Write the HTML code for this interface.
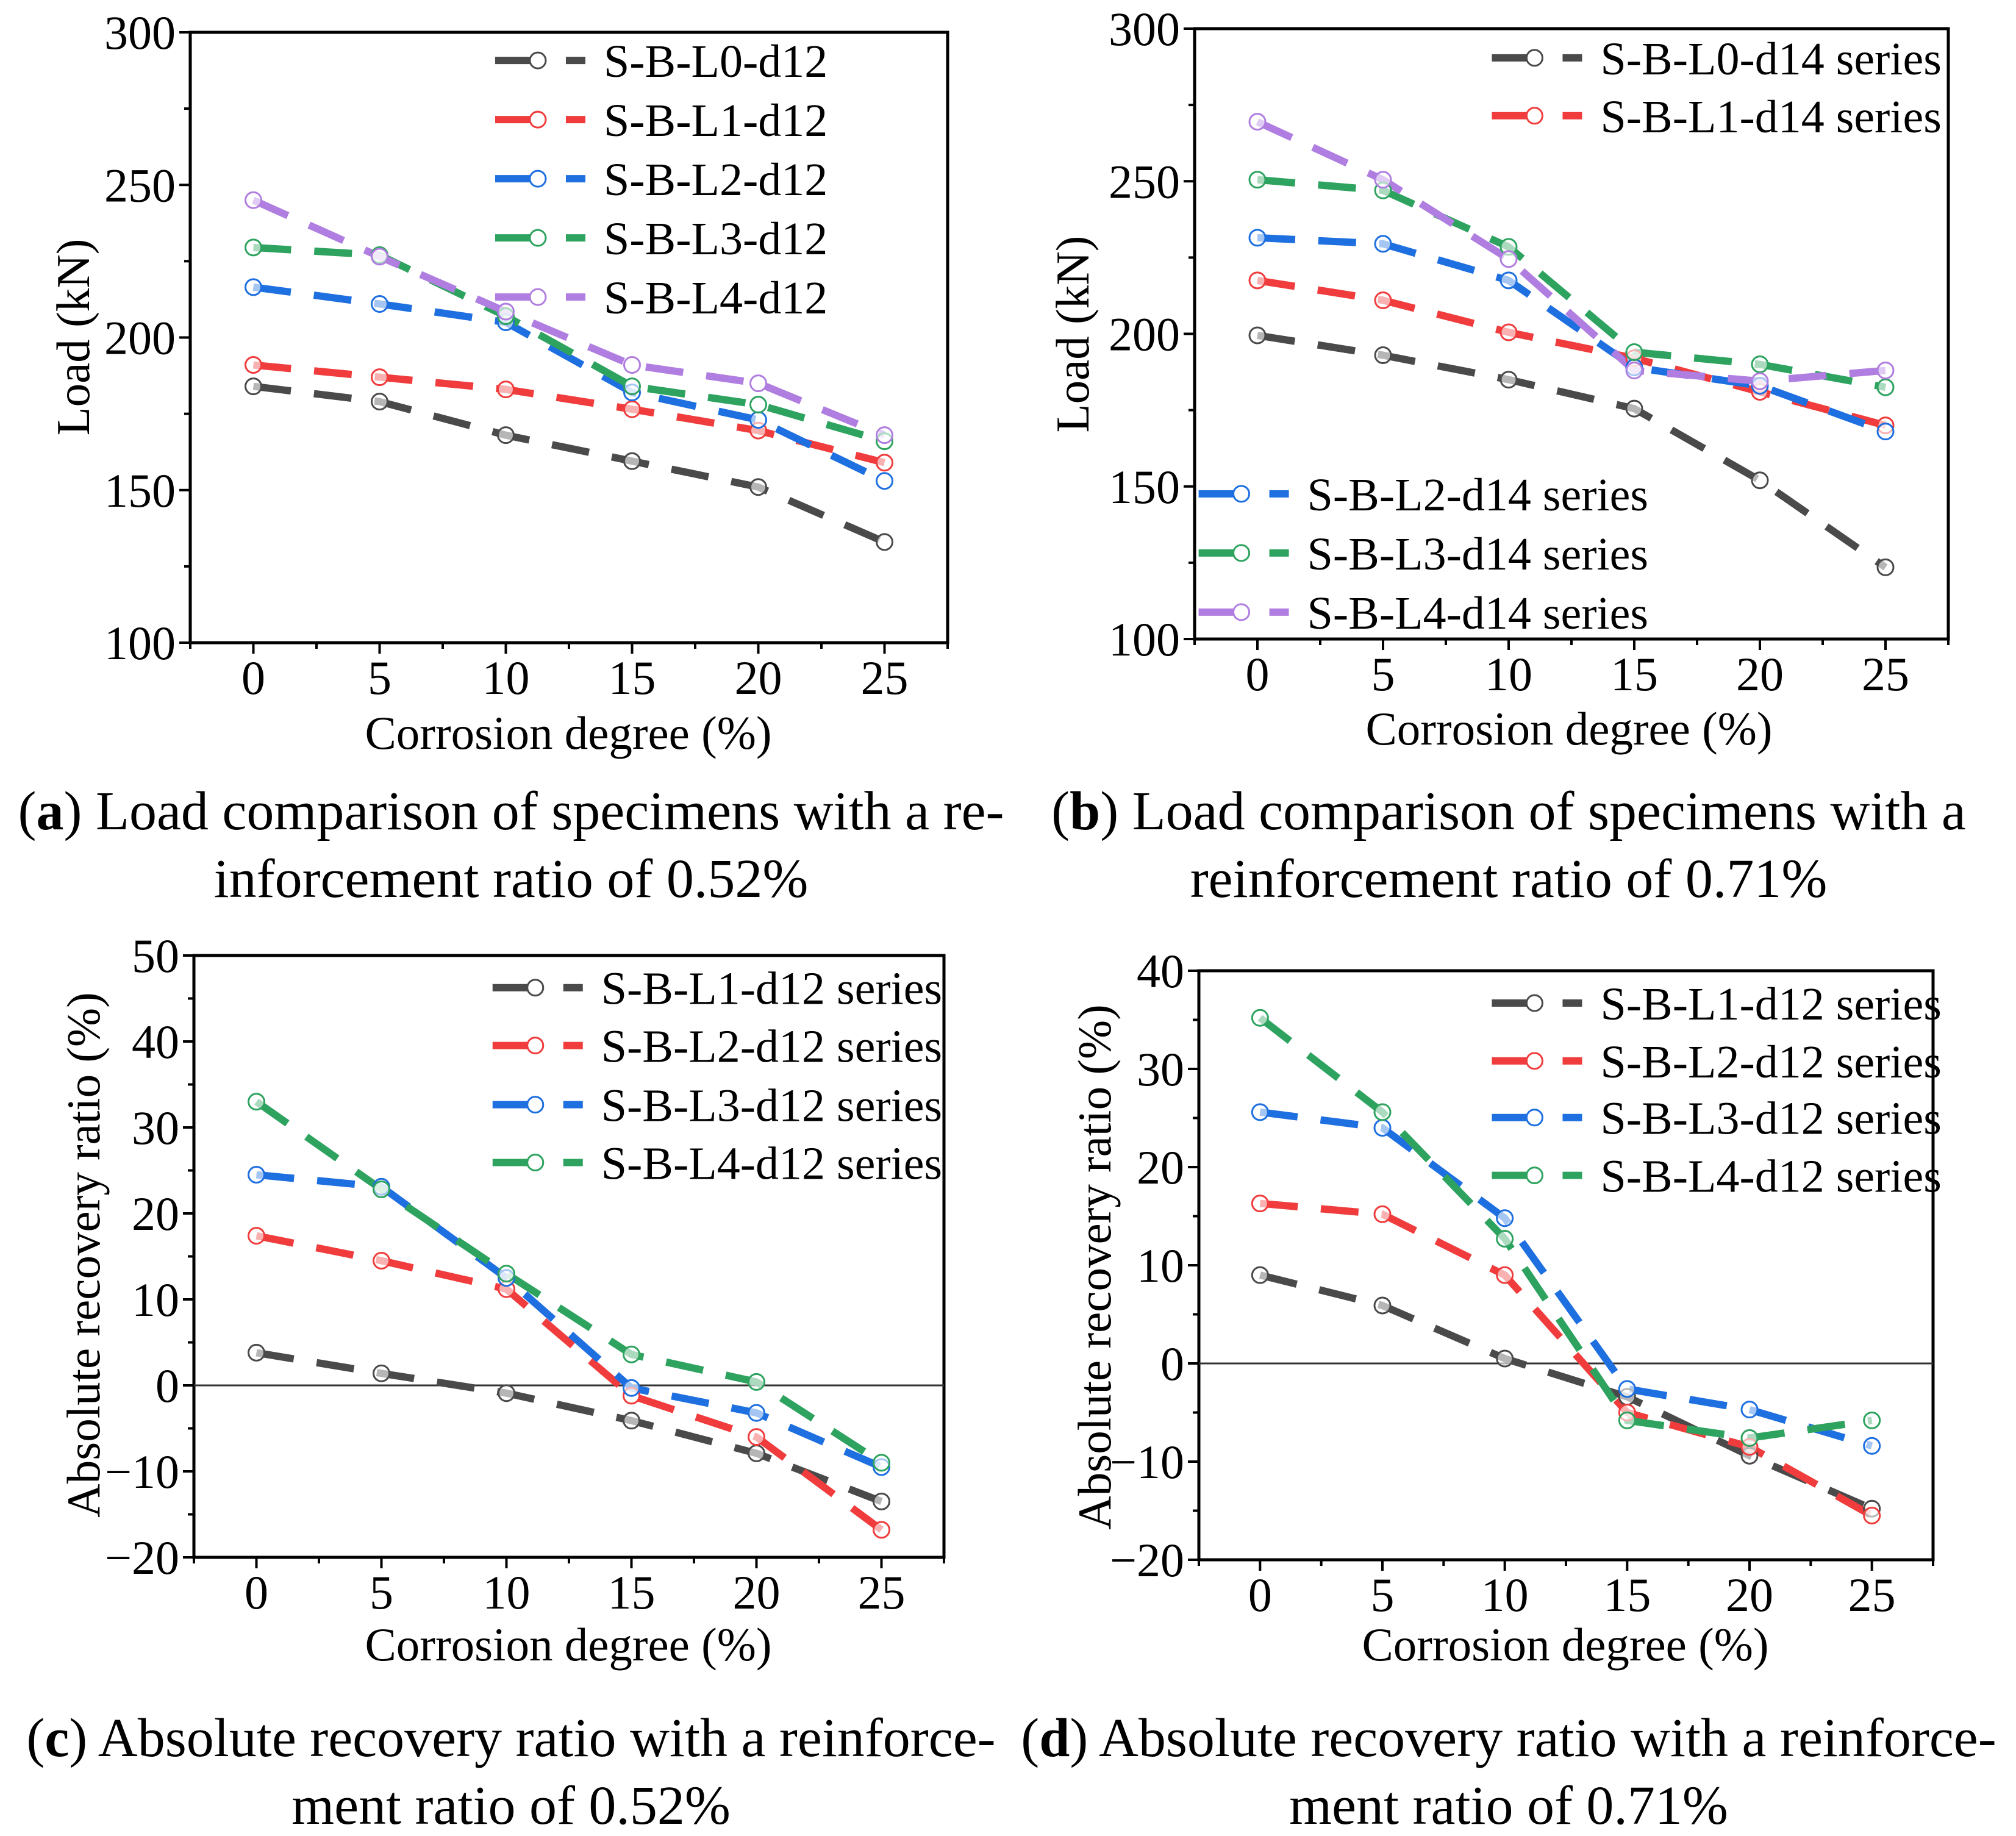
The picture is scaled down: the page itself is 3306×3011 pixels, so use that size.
<!DOCTYPE html>
<html><head><meta charset="utf-8"><style>
html,body{margin:0;padding:0;background:#fff;}
svg{display:block;font-family:"Liberation Serif",serif;}
</style></head><body>
<svg id="fig" width="3306" height="3011" viewBox="0 0 3306 3011" xmlns="http://www.w3.org/2000/svg"></svg>
<script>
const xCats = [0, 5, 10, 15, 20, 25];
const xTickLabels = ["0","5","10","15","20","25"];
const colors = ["#4a4a4a","#f03c3c","#1e6fe0","#2ea35f","#b07ee0"];
// Panel a
const aL0 = [184,179,168,159.5,151,133];
const aL1 = [191,187,183,176.5,169.5,159];
const aL2 = [216.5,211,205,182,173,153];
const aL3 = [229.5,227,207,184,178,166];
const aL4 = [245,226.5,208.5,191,185,168];
const aNames = ["S-B-L0-d12","S-B-L1-d12","S-B-L2-d12","S-B-L3-d12","S-B-L4-d12"];
const aYTicks = [100,150,200,250,300];
// Panel b
const bL0 = [199.5,193,185,175.5,152,123.5];
const bL1 = [217.5,211,200.5,192,181,170];
const bL2 = [231.5,229.5,217.5,189,183,168];
const bL3 = [250.5,247,228.5,194,190,182.5];
const bL4 = [269.5,250.5,224.5,188,184.5,188];
const bNames = ["S-B-L0-d14 series","S-B-L1-d14 series","S-B-L2-d14 series","S-B-L3-d14 series","S-B-L4-d14 series"];
const bYTicks = [100,150,200,250,300];
// Panel c
const cL1 = [3.8,1.4,-0.9,-4.1,-7.9,-13.5];
const cL2 = [17.4,14.5,11.2,-1.2,-6,-16.8];
const cL3 = [24.5,23.1,12.5,-0.3,-3.2,-9.5];
const cL4 = [33,22.8,13,3.6,0.4,-9];
const cNames = ["S-B-L1-d12 series","S-B-L2-d12 series","S-B-L3-d12 series","S-B-L4-d12 series"];
const cYTicks = [-20,-10,0,10,20,30,40,50];
// Panel d
const dL1 = [9,5.9,0.5,-3.4,-9.4,-14.8];
const dL2 = [16.3,15.2,9,-5,-8.5,-15.5];
const dL3 = [25.6,24,14.8,-2.6,-4.7,-8.4];
const dL4 = [35.2,25.6,12.7,-5.8,-7.6,-5.8];
const dNames = ["S-B-L1-d12 series","S-B-L2-d12 series","S-B-L3-d12 series","S-B-L4-d12 series"];
const dYTicks = [-20,-10,0,10,20,30,40];

const NS="http://www.w3.org/2000/svg";
const svg=document.getElementById('fig');
function mk(tag,attrs,parent){const e=document.createElementNS(NS,tag);for(const k in attrs)e.setAttribute(k,attrs[k]);(parent||svg).appendChild(e);return e;}
function txt(s,attrs,parent){const e=mk('text',attrs,parent);e.textContent=s;return e;}

function panel(id,box,ymin,ymax,yTicks,series,cols,names,legends,ytitle,ytitlePos,xtitlePos,zeroLine){
  const g=mk('g',{});
  
  
  const X=v=>box.l+(v+2.5)/30*(box.r-box.l);
  const Y=v=>box.b-(v-ymin)/(ymax-ymin)*(box.b-box.t);
  const fr=mk('rect',{x:box.l,y:box.t,width:box.r-box.l,height:box.b-box.t,fill:'none',stroke:'#000','stroke-width':5},g);
  
  
  if(zeroLine){const z=mk('line',{x1:box.l,x2:box.r,y1:Y(0),y2:Y(0),stroke:'#333','stroke-width':3},g);
    
    }
  for(let i=0;i<=12;i++){const v=-2.5+i*2.5;const x=X(v);const major=(i%2===1);
    mk('line',{x1:x,x2:x,y1:box.b,y2:box.b+(major?18:10),stroke:'#000','stroke-width':4},g);}
  xCats.forEach((c,i)=>{const t=txt(xTickLabels[i],{x:X(c),y:box.b+84,'font-size':78,'text-anchor':'middle'},g);
    
    });
  const step=yTicks[1]-yTicks[0];
  for(let v=ymin;v<=ymax+1e-9;v+=step/2){const y=Y(v);const major=Math.abs((v-ymin)/step-Math.round((v-ymin)/step))<1e-6;
    mk('line',{x1:box.l-(major?18:10),x2:box.l,y1:y,y2:y,stroke:'#000','stroke-width':4},g);}
  yTicks.forEach(v=>{const t=txt(v<0?'\u2212'+Math.abs(v):String(v),{x:box.l-24,y:Y(v)+27,'font-size':78,'text-anchor':'end'},g);
    
    });
  const yt=txt(ytitle,{x:ytitlePos[0],y:ytitlePos[1],'font-size':77,'text-anchor':'middle',transform:`rotate(-90 ${ytitlePos[0]} ${ytitlePos[1]})`},g);
  
  
  const xt=txt('Corrosion degree (%)',{x:xtitlePos[0],y:xtitlePos[1],'font-size':77,'text-anchor':'middle'},g);
  
  
  series.forEach((vals,si)=>{
    const pts=vals.map((v,i)=>X(xCats[i])+','+Y(v)).join(' ');
    const pl=mk('polyline',{points:pts,fill:'none',stroke:cols[si],'stroke-width':12,'stroke-dasharray':'62 38'},g);
    
    
  });
  series.forEach((vals,si)=>{
    vals.forEach((v,i)=>{const c=mk('circle',{cx:X(xCats[i]),cy:Y(v),r:13,fill:'#fff','fill-opacity':0.6,stroke:cols[si],'stroke-width':3},g);
      
      });
  });
  legends.forEach((L,si)=>{
    const lg=mk('g',{},g);
    
    
    mk('line',{x1:L.x,x2:L.x+70,y1:L.y,y2:L.y,stroke:cols[si],'stroke-width':12},lg);
    mk('circle',{cx:L.x+70,cy:L.y,r:13,fill:'#fff',stroke:cols[si],'stroke-width':3},lg);
    mk('line',{x1:L.x+116,x2:L.x+148,y1:L.y,y2:L.y,stroke:cols[si],'stroke-width':12},lg);
    txt(names[si],{x:L.x+178,y:L.y+27,'font-size':76},lg);
  });
}
const s=2.109;
panel('a',{l:312,r:1554,t:53,b:1054},100,300,aYTicks,[aL0,aL1,aL2,aL3,aL4],colors,aNames,
  [47,93,139,185,231].map(y=>({x:385*s,y:y*s})),'Load (kN)',[146,553],[932,1228],false);
panel('b',{l:1959,r:3195,t:47,b:1048},100,300,bYTicks,[bL0,bL1,bL2,bL3,bL4],colors,bNames,
  [{x:1160*s,y:45*s},{x:1160*s,y:90*s},{x:932*s,y:384*s},{x:932*s,y:430*s},{x:932*s,y:476*s}],'Load (kN)',[1785,548],[2573,1221],false);
panel('c',{l:318,r:1548,t:1567,b:2554},-20,50,cYTicks,[cL1,cL2,cL3,cL4],colors.slice(0,4),cNames,
  [768,813,859,904].map(y=>({x:383*s,y:y*s})),'Absolute recovery ratio (%)',[163,2058],[932,2723],true);
panel('d',{l:1966,r:3170,t:1592,b:2558},-20,40,dYTicks,[dL1,dL2,dL3,dL4],colors.slice(0,4),dNames,
  [780,825,869,914].map(y=>({x:1160*s,y:y*s})),'Absolute recovery ratio (%)',[1821,2078],[2567,2723],true);

const caps=[
 ['a',' Load comparison of specimens with a re-',838,1360],
 ['','inforcement ratio of 0.52%',838,1471],
 ['b',' Load comparison of specimens with a',2474,1360],
 ['','reinforcement ratio of 0.71%',2474,1471],
 ['c',' Absolute recovery ratio with a reinforce-',838,2880],
 ['','ment ratio of 0.52%',838,2991],
 ['d',' Absolute recovery ratio with a reinforce-',2474,2880],
 ['','ment ratio of 0.71%',2474,2991]];
caps.forEach(c=>{
  const t=mk('text',{x:c[2],y:c[3],'font-size':90,'text-anchor':'middle'});
  
  
  if(c[0]){
    const o=mk('tspan',{},t);o.textContent='(';
    const b=mk('tspan',{'font-weight':'bold'},t);b.textContent=c[0];
    const cl=mk('tspan',{},t);cl.textContent=')';
  }
  const r=mk('tspan',{},t);r.textContent=c[1];
});
</script>
</body></html>
